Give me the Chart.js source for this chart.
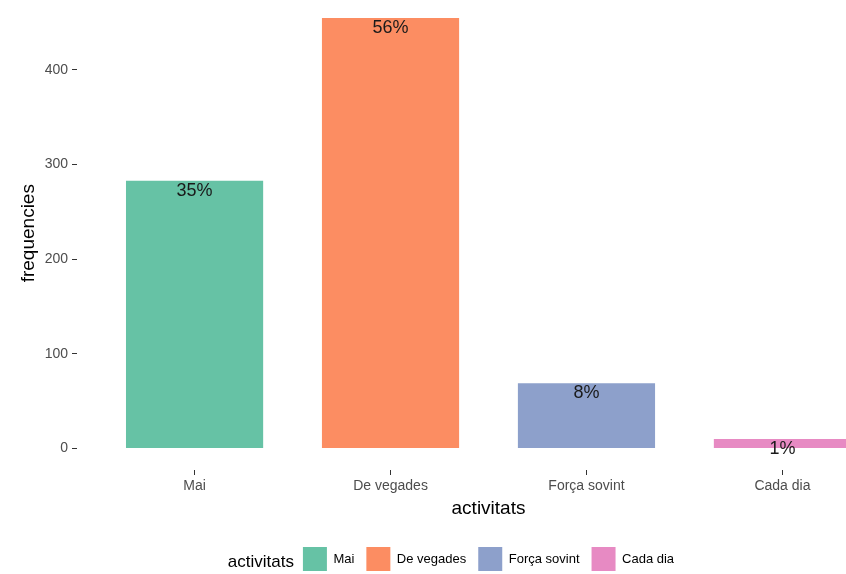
<!DOCTYPE html>
<html>
<head>
<meta charset="utf-8">
<script src="https://cdn.jsdelivr.net/npm/chart.js@4/dist/chart.umd.min.js"></script>
<style>
  html, body { margin: 0; padding: 0; background: #fff; overflow: hidden; }
  #wrap { position: relative; width: 846px; height: 574px; overflow: hidden; }
  #grafic { position: absolute; left: 0; top: -16px; }
</style>
</head>
<body>
<div id="wrap"><canvas id="grafic" width="900" height="597"></canvas></div>
<script>
const categories = ['Mai', 'De vegades', 'Força sovint', 'Cada dia'];
const frequencies = [283, 455, 69, 10];
const percentLabels = ['35%', '56%', '8%', '1%'];
const barColors = ['#66C2A5', '#FC8D62', '#8DA0CB', '#E78AC3'];
const yTicks = [0, 100, 200, 300, 400];

const FONT = "'Liberation Sans', Arial, sans-serif";
const yMax = Math.max(...frequencies) * 1.05;
const yMin = -Math.max(...frequencies) * 0.05;

// etiquetes de percentatge just sota el cim de cada barra
const percentPlugin = {
    id: 'percentPlugin',
    afterDatasetsDraw(chart) {
        const ctx = chart.ctx;
        const meta = chart.getDatasetMeta(0);
        ctx.save();
        ctx.font = '18px ' + FONT;
        ctx.fillStyle = '#1a1a1a';
        ctx.textAlign = 'center';
        ctx.textBaseline = 'middle';
        meta.data.forEach((bar, i) => {
            ctx.fillText(percentLabels[i], bar.x, bar.y + 10);
        });
        ctx.restore();
    }
};

// titol de la llegenda a l'esquerra, com ggplot
const legendTitlePlugin = {
    id: 'legendTitlePlugin',
    afterDraw(chart) {
        const boxes = chart.legend.legendHitBoxes;
        if (!boxes || !boxes.length) return;
        const first = boxes[0];
        const ctx = chart.ctx;
        ctx.save();
        ctx.font = '17px ' + FONT;
        ctx.fillStyle = '#000';
        ctx.textAlign = 'right';
        ctx.textBaseline = 'middle';
        ctx.fillText('activitats', first.left - 9, first.top + first.height / 2 + 3);
        ctx.restore();
    }
};

new Chart(document.getElementById('grafic'), {
    type: 'bar',
    data: {
        datasets: [{
            label: 'frequencies',
            data: categories.map((c, i) => ({ x: i, y: frequencies[i] })),
            backgroundColor: barColors,
            borderWidth: 0,
            categoryPercentage: 1,
            barPercentage: 0.7
        }]
    },
    options: {
        responsive: false,
        devicePixelRatio: 1,
        animation: false,
        layout: { padding: { top: 10, left: 0, right: 0, bottom: 0 } },
        plugins: {
            tooltip: { enabled: false },
            legend: {
                position: 'bottom',
                fullSize: false,
                labels: {
                    boxWidth: 24,
                    boxHeight: 24,
                    padding: 12,
                    color: '#000',
                    font: { family: FONT, size: 13 },
                    generateLabels: () => categories.map((c, i) => ({
                        text: c,
                        fillStyle: barColors[i],
                        strokeStyle: barColors[i],
                        lineWidth: 0,
                        hidden: false,
                        index: i
                    }))
                },
                onClick: () => {}
            }
        },
        scales: {
            x: {
                type: 'linear',
                min: -0.6,
                max: categories.length - 1 + 0.6,
                offset: false,
                border: { display: false },
                grid: { offset: false, drawOnChartArea: false, drawTicks: true, tickLength: 5, color: '#333333' },
                afterBuildTicks: scale => { scale.ticks = categories.map((c, i) => ({ value: i })); },
                afterFit: scale => { scale.height = 65; },
                ticks: {
                    autoSkip: false,
                    maxRotation: 0,
                    padding: 3,
                    color: '#4D4D4D',
                    font: { family: FONT, size: 14 },
                    callback: v => categories[v]
                },
                title: {
                    display: true,
                    text: 'activitats',
                    color: '#000',
                    font: { family: FONT, size: 19 },
                    padding: { top: 0, bottom: 15 }
                }
            },
            y: {
                min: yMin,
                max: yMax,
                border: { display: false },
                grid: { drawOnChartArea: false, drawTicks: true, tickLength: 5, color: '#333333' },
                afterBuildTicks: scale => { scale.ticks = yTicks.map(v => ({ value: v })); },
                afterFit: scale => { scale.width = 77; },
                ticks: {
                    padding: 4,
                    color: '#4D4D4D',
                    font: { family: FONT, size: 14 }
                },
                title: {
                    display: true,
                    text: 'frequencies',
                    color: '#000',
                    font: { family: FONT, size: 19 },
                    padding: { top: 17, bottom: 0 }
                }
            }
        }
    },
    plugins: [percentPlugin, legendTitlePlugin]
});
</script>
</body>
</html>
